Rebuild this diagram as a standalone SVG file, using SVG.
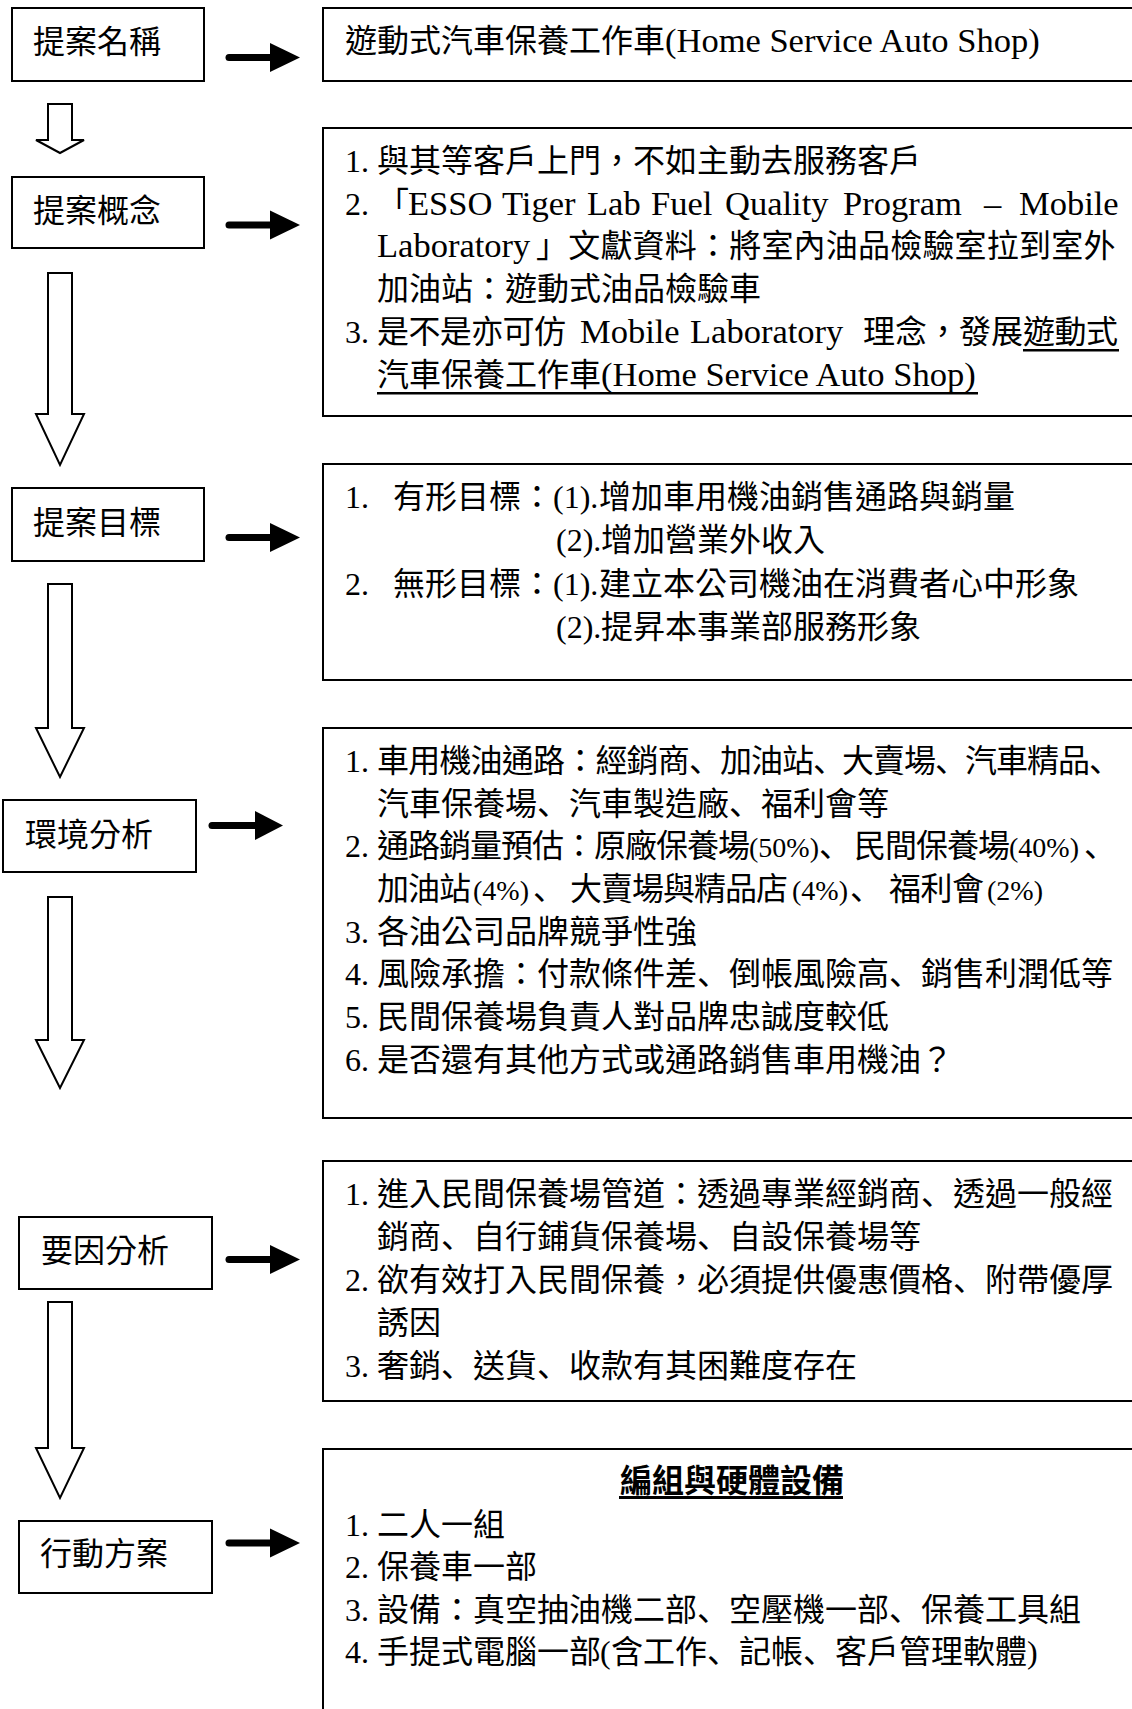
<svg xmlns="http://www.w3.org/2000/svg" width="1132" height="1709" viewBox="0 0 1132 1709">
<style>
.box{fill:#fff;stroke:#000;stroke-width:2}
.t{font-family:"Noto Sans CJK TC","Noto Sans CJK JP",sans-serif;font-size:32px;fill:#000}
.b{font-weight:bold}
.n{font-family:"Liberation Serif","Noto Sans CJK TC",serif;font-size:32px}
.e{font-family:"Liberation Serif","Noto Sans CJK TC",serif;font-size:34.5px}
.s{font-family:"Liberation Serif","Noto Sans CJK TC",serif;font-size:28px}
.p{font-family:"Noto Sans CJK JP","Noto Sans CJK TC",sans-serif}
.ul{fill:#000}
.hollow{fill:#fff;stroke:#000;stroke-width:2}
.shaft{stroke:#000;stroke-width:7;stroke-linecap:round;fill:none}
.head{fill:#000}
</style>
<rect width="1132" height="1709" fill="#fff"/>

<g id="connectors">
  <polygon class="hollow" points="48,104 72,104 72,140 84,140 60,153 36,140 48,140"/>
  <polygon class="hollow" points="48,273 72,273 72,414 84,414 60,465 36,414 48,414"/>
  <polygon class="hollow" points="48,584 72,584 72,728 84,728 60,777 36,728 48,728"/>
  <polygon class="hollow" points="48,897 72,897 72,1040 84,1040 60,1088 36,1040 48,1040"/>
  <polygon class="hollow" points="48,1302 72,1302 72,1448 84,1448 60,1498 36,1448 48,1448"/>
  <g id="arrow-name"><line class="shaft" x1="229" y1="57.5" x2="272" y2="57.5"/><polygon class="head" points="270,43 300,57.5 270,72"/></g>
  <g id="arrow-concept"><line class="shaft" x1="229" y1="225" x2="272" y2="225"/><polygon class="head" points="270,210.5 300,225 270,239.5"/></g>
  <g id="arrow-goal"><line class="shaft" x1="229" y1="537.5" x2="272" y2="537.5"/><polygon class="head" points="270,523 300,537.5 270,552"/></g>
  <g id="arrow-env"><line class="shaft" x1="212" y1="825.5" x2="257" y2="825.5"/><polygon class="head" points="255,811 283,825.5 255,840"/></g>
  <g id="arrow-factor"><line class="shaft" x1="229" y1="1259.5" x2="272" y2="1259.5"/><polygon class="head" points="270,1245 300,1259.5 270,1274"/></g>
  <g id="arrow-action"><line class="shaft" x1="229" y1="1543" x2="272" y2="1543"/><polygon class="head" points="270,1528.5 300,1543 270,1557.5"/></g>
</g>

<g id="node-name">
  <rect class="box" x="12" y="8" width="192" height="73"/>
  <text class="t" x="33" y="53">提案名稱</text>
</g>
<g id="node-concept">
  <rect class="box" x="12" y="177" width="192" height="71"/>
  <text class="t" x="33" y="222">提案概念</text>
</g>
<g id="node-goal">
  <rect class="box" x="12" y="488" width="192" height="73"/>
  <text class="t" x="33" y="534">提案目標</text>
</g>
<g id="node-env">
  <rect class="box" x="3" y="800" width="193" height="72"/>
  <text class="t" x="25" y="846">環境分析</text>
</g>
<g id="node-factor">
  <rect class="box" x="19" y="1217" width="193" height="72"/>
  <text class="t" x="41" y="1262">要因分析</text>
</g>
<g id="node-action">
  <rect class="box" x="19" y="1521" width="193" height="72"/>
  <text class="t" x="40" y="1565">行動方案</text>
</g>

<g id="detail-name">
  <rect class="box" x="323" y="8" width="830" height="73"/>
  <text class="t" x="345" y="52">遊動式汽車保養工作車<tspan class="e" x="665">(Home Service Auto Shop)</tspan></text>
</g>

<g id="detail-concept">
  <rect class="box" x="323" y="128" width="830" height="288"/>
  <text class="t" x="345" y="172"><tspan class="n">1.</tspan><tspan x="377">與其等客戶上門，不如主動去服務客戶</tspan></text>
  <text class="t" x="345" y="215"><tspan class="n">2.</tspan><tspan x="377">「</tspan><tspan class="e" x="408">ESSO</tspan><tspan class="e" x="502">Tiger</tspan><tspan class="e" x="587">Lab</tspan><tspan class="e" x="651">Fuel</tspan><tspan class="e" x="725">Quality</tspan><tspan class="e" x="843">Program</tspan><tspan class="e" x="984">–</tspan><tspan class="e" x="1019">Mobile</tspan></text>
  <text class="t" x="377" y="257"><tspan class="e">Laboratory</tspan><tspan x="536" letter-spacing="0.2">」文獻資料：將室內油品檢驗室拉到室外</tspan></text>
  <text class="t" x="377" y="300">加油站：遊動式油品檢驗車</text>
  <text class="t" x="345" y="343"><tspan class="n">3.</tspan><tspan x="377" letter-spacing="-0.6">是不是亦可仿</tspan><tspan class="e" x="580">Mobile</tspan><tspan class="e" x="690">Laboratory</tspan><tspan x="863">理念，發展</tspan><tspan x="1023" letter-spacing="-0.5">遊動式</tspan></text>
  <text class="t" x="377" y="386">汽車保養工作車<tspan class="e" x="601">(Home Service Auto Shop)</tspan></text>
  <rect class="ul" x="1023" y="349" width="96" height="2.5"/>
  <rect class="ul" x="377" y="392" width="601" height="2.5"/>
</g>

<g id="detail-goal">
  <rect class="box" x="323" y="464" width="830" height="216"/>
  <text class="t" x="345" y="508"><tspan class="n">1.</tspan><tspan x="393">有形目標：</tspan><tspan class="n" x="553">(1).</tspan><tspan x="599">增加車用機油銷售通路與銷量</tspan></text>
  <text class="t" x="556" y="551"><tspan class="n">(2).</tspan><tspan x="601">增加營業外收入</tspan></text>
  <text class="t" x="345" y="595"><tspan class="n">2.</tspan><tspan x="393">無形目標：</tspan><tspan class="n" x="553">(1).</tspan><tspan x="599">建立本公司機油在消費者心中形象</tspan></text>
  <text class="t" x="556" y="638"><tspan class="n">(2).</tspan><tspan x="601">提昇本事業部服務形象</tspan></text>
</g>

<g id="detail-env">
  <rect class="box" x="323" y="728" width="830" height="390"/>
  <text class="t" x="345" y="772"><tspan class="n">1.</tspan><tspan x="377" letter-spacing="-0.8">車用機油通路：經銷商<tspan class="p">、</tspan></tspan><tspan x="720" letter-spacing="-1">加油站<tspan class="p">、</tspan></tspan><tspan x="842" letter-spacing="-1">大賣場<tspan class="p">、</tspan></tspan><tspan x="965" letter-spacing="-1">汽車精品<tspan class="p">、</tspan></tspan></text>
  <text class="t" x="377" y="815">汽車保養場<tspan class="p">、</tspan>汽車製造廠<tspan class="p">、</tspan>福利會等</text>
  <text class="t" x="345" y="857"><tspan class="n">2.</tspan><tspan x="377" letter-spacing="-1">通路銷量預估：原廠保養場</tspan><tspan class="s" x="749">(50%)</tspan><tspan class="p" x="819">、</tspan><tspan x="854" letter-spacing="-1">民間保養場</tspan><tspan class="s" x="1009">(40%)</tspan><tspan class="p" x="1084">、</tspan></text>
  <text class="t" x="377" y="900"><tspan letter-spacing="-1">加油站</tspan><tspan class="s" x="473">(4%)</tspan><tspan class="p" x="533">、</tspan><tspan x="570" letter-spacing="-1">大賣場與精品店</tspan><tspan class="s" x="792">(4%)</tspan><tspan class="p" x="850">、</tspan><tspan x="889" letter-spacing="-0.5">福利會</tspan><tspan class="s" x="987">(2%)</tspan></text>
  <text class="t" x="345" y="943"><tspan class="n">3.</tspan><tspan x="377">各油公司品牌競爭性強</tspan></text>
  <text class="t" x="345" y="985"><tspan class="n">4.</tspan><tspan x="377">風險承擔：付款條件差<tspan class="p">、</tspan>倒帳風險高<tspan class="p">、</tspan>銷售利潤低等</tspan></text>
  <text class="t" x="345" y="1028"><tspan class="n">5.</tspan><tspan x="377">民間保養場負責人對品牌忠誠度較低</tspan></text>
  <text class="t" x="345" y="1071"><tspan class="n">6.</tspan><tspan x="377">是否還有其他方式或通路銷售車用機油？</tspan></text>
</g>

<g id="detail-factor">
  <rect class="box" x="323" y="1161" width="830" height="240"/>
  <text class="t" x="345" y="1205"><tspan class="n">1.</tspan><tspan x="377">進入民間保養場管道：透過專業經銷商<tspan class="p">、</tspan>透過一般經</tspan></text>
  <text class="t" x="377" y="1248">銷商<tspan class="p">、</tspan>自行鋪貨保養場<tspan class="p">、</tspan>自設保養場等</text>
  <text class="t" x="345" y="1291"><tspan class="n">2.</tspan><tspan x="377">欲有效打入民間保養，必須提供優惠價格<tspan class="p">、</tspan>附帶優厚</tspan></text>
  <text class="t" x="377" y="1334">誘因</text>
  <text class="t" x="345" y="1377"><tspan class="n">3.</tspan><tspan x="377">奢銷<tspan class="p">、</tspan>送貨<tspan class="p">、</tspan>收款有其困難度存在</tspan></text>
</g>

<g id="detail-action">
  <rect class="box" x="323" y="1449" width="830" height="290"/>
  <text class="t b" x="620" y="1492">編組與硬體設備</text>
  <rect class="ul" x="619" y="1496" width="224" height="3"/>
  <text class="t" x="345" y="1536"><tspan class="n">1.</tspan><tspan x="377">二人一組</tspan></text>
  <text class="t" x="345" y="1578"><tspan class="n">2.</tspan><tspan x="377">保養車一部</tspan></text>
  <text class="t" x="345" y="1621"><tspan class="n">3.</tspan><tspan x="377">設備：真空抽油機二部<tspan class="p">、</tspan>空壓機一部<tspan class="p">、</tspan>保養工具組</tspan></text>
  <text class="t" x="345" y="1663"><tspan class="n">4.</tspan><tspan x="377">手提式電腦一部</tspan><tspan class="n" x="600">(</tspan><tspan x="611">含工作<tspan class="p">、</tspan>記帳<tspan class="p">、</tspan>客戶管理軟體</tspan><tspan class="n" x="1027">)</tspan></text>
</g>
</svg>
